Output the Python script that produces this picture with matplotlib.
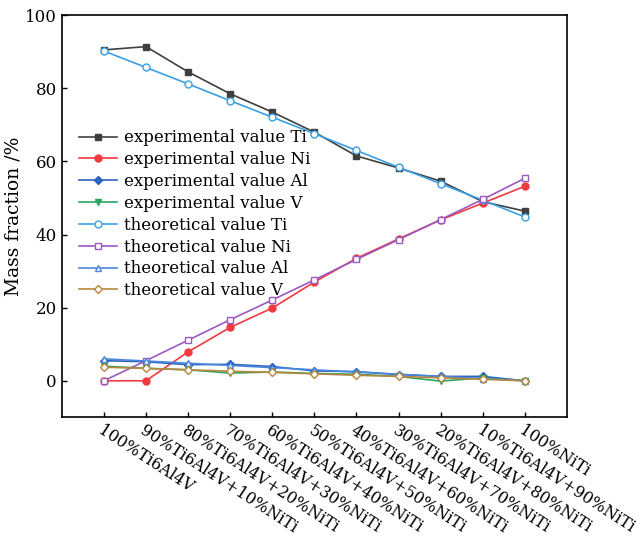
import matplotlib.pyplot as plt
import matplotlib.transforms as mtransforms
import numpy as np

plt.rcParams["font.family"] = ["DejaVu Serif"]

samples = [
    "100%Ti6Al4V",
    "90%Ti6Al4V+10%NiTi",
    "80%Ti6Al4V+20%NiTi",
    "70%Ti6Al4V+30%NiTi",
    "60%Ti6Al4V+40%NiTi",
    "50%Ti6Al4V+50%NiTi",
    "40%Ti6Al4V+60%NiTi",
    "30%Ti6Al4V+70%NiTi",
    "20%Ti6Al4V+80%NiTi",
    "10%Ti6Al4V+90%NiTi",
    "100%NiTi",
]

exp_ti = [90.5, 91.4, 84.5, 78.5, 73.5, 68.0, 61.5, 58.2, 54.6, 49.0, 46.4]
exp_ni = [0.0, 0.0, 7.9, 14.6, 19.9, 27.0, 33.5, 38.8, 44.0, 48.6, 53.2]
exp_al = [5.5, 5.2, 4.4, 4.5, 3.9, 2.7, 2.5, 1.7, 1.2, 1.2, 0.0]
exp_v = [4.0, 3.4, 3.0, 2.1, 2.4, 2.0, 1.8, 1.2, -0.1, 0.8, 0.0]

theo_ti = [90.2, 85.7, 81.2, 76.6, 72.1, 67.6, 63.0, 58.4, 53.9, 49.4, 44.8]
theo_ni = [0.0, 5.5, 11.1, 16.7, 22.1, 27.6, 33.2, 38.6, 44.1, 49.6, 55.4]
theo_al = [6.0, 5.4, 4.8, 4.2, 3.6, 3.0, 2.4, 1.8, 1.2, 0.6, 0.0]
theo_v = [3.7, 3.4, 3.0, 2.6, 2.3, 1.9, 1.5, 1.2, 0.8, 0.4, 0.0]

x = np.arange(len(samples))

fig, ax = plt.subplots(figsize=(6.37, 5.42), dpi=100)
fig.subplots_adjust(left=0.097, right=0.89, top=0.972, bottom=0.23)

ms = 5
ax.plot(x, exp_ti, "-s", color="#3f3f3f", ms=ms, lw=1.2, label="experimental value Ti")
ax.plot(x, exp_ni, "-o", color="#f03a3f", ms=ms, lw=1.2, label="experimental value Ni")
ax.plot(x, exp_al, "-D", color="#2a62c0", ms=4.5, lw=1.2, label="experimental value Al")
ax.plot(x, exp_v, "-v", color="#2aa561", ms=ms, lw=1.2, label="experimental value V")
ax.plot(x, theo_ti, "-o", color="#3aa0e6", mfc="white", ms=ms, lw=1.2, label="theoretical value Ti")
ax.plot(x, theo_ni, "-s", color="#9b59c0", mfc="white", ms=ms, lw=1.2, label="theoretical value Ni")
ax.plot(x, theo_al, "-^", color="#4a86dc", mfc="white", ms=ms, lw=1.2, label="theoretical value Al")
ax.plot(x, theo_v, "-D", color="#b9863e", mfc="white", ms=4.5, lw=1.2, label="theoretical value V")

ax.set_xlim(-1, 11)
ax.set_ylim(-10, 100)
ax.set_yticks([0, 20, 40, 60, 80, 100])
ax.set_xticks(x)
ax.set_xticklabels(samples, rotation=-33, ha="left", rotation_mode="anchor", fontsize=11.5)
# 标签整体向左挪一点，和原图对齐
shift = mtransforms.ScaledTranslation(-13 / 100, 0, fig.dpi_scale_trans)
for lab in ax.get_xticklabels():
    lab.set_transform(lab.get_transform() + shift)
ax.tick_params(direction="in", top=False, right=False, labelsize=12, width=1)
ax.tick_params(axis="x", labelsize=11.5)
ax.set_ylabel("Mass fraction /%", fontsize=13.5, labelpad=2)
for s in ax.spines.values():
    s.set_linewidth(1.2)

ax.legend(loc="upper left", bbox_to_anchor=(0.01, 0.745), frameon=False, fontsize=12,
          handlelength=2.3, handletextpad=0.4, labelspacing=0.29, borderpad=0.2)

fig.savefig("out.png", dpi=100)
